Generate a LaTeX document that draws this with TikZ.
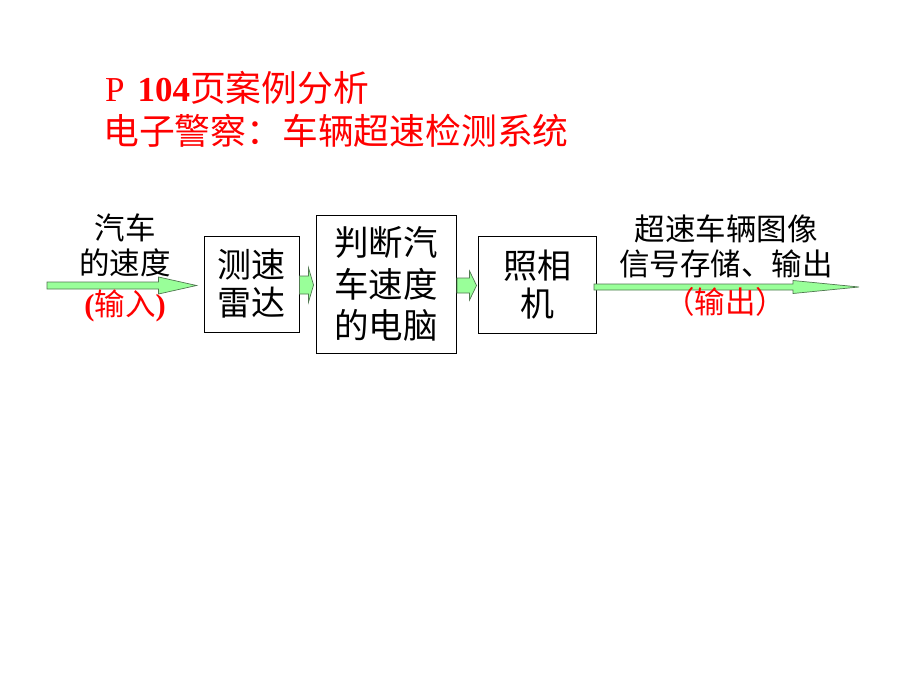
\documentclass[tikz,border=0pt]{standalone}
\usepackage{fontspec}
\setmainfont{Liberation Serif}
\newfontfamily\cjk{Noto Sans CJK SC}
\usetikzlibrary{calc}
\definecolor{arrowgreen}{RGB}{153,255,153}
\definecolor{arrowedge}{RGB}{80,120,80}
\definecolor{titlered}{RGB}{255,0,0}
\tikzset{
  blk/.style={draw=black, line width=0.9pt, fill=white, inner sep=0pt, align=center},
  fatarrow/.style={draw=arrowedge, fill=arrowgreen, line width=0.7pt, line join=miter},
  lbl/.style={inner sep=0pt, align=center, font=\cjk\fontsize{30.5}{35}\selectfont},
  redlbl/.style={lbl, text=titlered},
  ttl/.style={inner sep=0pt, anchor=west, text=titlered, font=\cjk\fontsize{35.8}{40}\selectfont},
}
% #1 start, #2 tip, #3 shaft half height, #4 head half height, #5 head length
\newcommand{\blockarrow}[5]{%
  \draw[fatarrow] ($(#1)+(0,#3)$) -- ($(#2)+(-#5,#3)$) -- ($(#2)+(-#5,#4)$) -- (#2)
    -- ($(#2)+(-#5,-#4)$) -- ($(#2)+(-#5,-#3)$) -- ($(#1)+(0,-#3)$) -- cycle;}
\begin{document}
\begin{tikzpicture}[x=1pt,y=-1pt]
\useasboundingbox (0,0) rectangle (920,690);
% title
\node[ttl] (t1) at (105,88) {{\rmfamily\fontsize{35}{40}\selectfont P\hspace{13pt}\textbf{104}}页案例分析};
\node[ttl] (t2) at (103,131) {电子警察：车辆超速检测系统};
% blocks
\node[blk, minimum width=95, minimum height=96, font=\cjk\fontsize{34}{38}\selectfont] (radar) at (251.5,284) {测速\\雷达};
\node[blk, minimum width=140, minimum height=138, font=\cjk\fontsize{34.5}{41.5}\selectfont] (pc) at (386,284) {判断汽\\车速度\\的电脑};
\node[blk, minimum width=118, minimum height=97, font=\cjk\fontsize{34}{38}\selectfont] (cam) at (537,284.5) {照相\\机};
% arrows
\coordinate (inA) at (47,285.5);
\coordinate (inB) at ($(radar.west)+(-7,1.5)$);
\blockarrow{inA}{inB}{3.5}{8.5}{38}
\coordinate (a1) at ($(radar.east)+(0,1)$);
\coordinate (a2) at ($(pc.west)+(-2,1)$);
\blockarrow{a1}{a2}{9}{17}{5}
\coordinate (b1) at ($(pc.east)+(0.5,1.5)$);
\coordinate (b2) at ($(cam.west)+(-1,1)$);
\blockarrow{b1}{b2}{7.5}{14.5}{7}
\coordinate (outA) at (594,287);
\coordinate (outB) at (859,287);
\blockarrow{outA}{outB}{3}{6.5}{66}
% labels
\node[lbl] (inlbl) at (125,245.5) {汽车\\的速度};
\node[redlbl] (inred) at (125,306) {{\rmfamily\bfseries(}输入{\rmfamily\bfseries)}};
\node[lbl] (outlbl) at (726,246.5) {超速车辆图像\\信号存储、输出};
\node[redlbl] (outred) at (725,302) {（输出）};
\end{tikzpicture}
\end{document}
